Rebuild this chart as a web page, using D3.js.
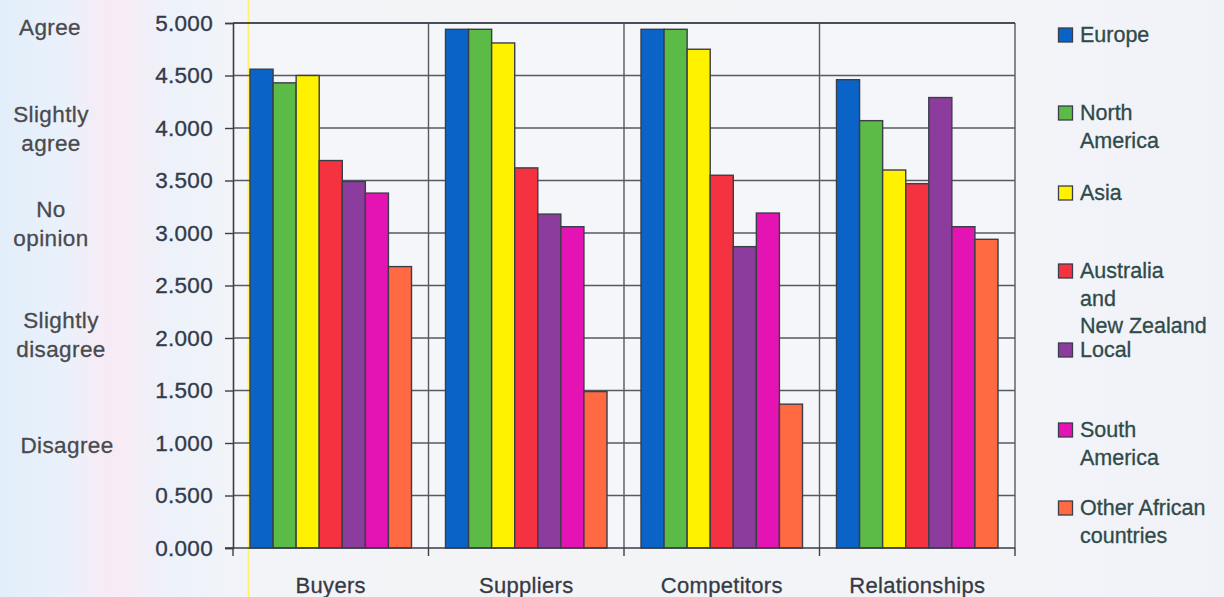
<!DOCTYPE html>
<html>
<head>
<meta charset="utf-8">
<script src="https://cdn.jsdelivr.net/npm/d3@7"></script>
<style>
  html, body { margin: 0; padding: 0; }
  body { width: 1224px; height: 597px; overflow: hidden; }
  svg { display: block; font-family: Arial, "Liberation Sans", sans-serif; }
</style>
</head>
<body>
<svg id="chart" width="1224" height="597"></svg>
<script>
// Survey categories and regional series (mean score, 0 = disagree .. 5 = agree)
const categories = ["Buyers", "Suppliers", "Competitors", "Relationships"];
const seriesNames = ["Europe", "North America", "Asia", "Australia and New Zealand", "Local", "South America", "Other African countries"];
const europe        = [4.56, 4.94, 4.94, 4.46];
const northAmerica  = [4.43, 4.94, 4.94, 4.07];
const asia          = [4.50, 4.81, 4.75, 3.60];
const australiaNZ   = [3.69, 3.62, 3.55, 3.47];
const local         = [3.49, 3.18, 2.87, 4.29];
const southAmerica  = [3.38, 3.06, 3.19, 3.06];
const otherAfrican  = [2.68, 1.49, 1.37, 2.94];
const seriesValues = [europe, northAmerica, asia, australiaNZ, local, southAmerica, otherAfrican];
const yTicks = [0, 0.5, 1, 1.5, 2, 2.5, 3, 3.5, 4, 4.5, 5];
const scaleLabels = [["Agree"], ["Slightly", "agree"], ["No", "opinion"], ["Slightly", "disagree"], ["Disagree"]];
const legendLines = [["Europe"], ["North", "America"], ["Asia"], ["Australia", "and", "New Zealand"], ["Local"], ["South", "America"], ["Other African", "countries"]];
const colors = ["#0a64c8", "#5cbb46", "#fff200", "#f5323f", "#8c3c9c", "#e414b4", "#ff6a42"];

const svg = d3.select("#chart");
const W = 1224, H = 597;

// page background with soft vertical tint bands
const defs = svg.append("defs");
const bg = defs.append("linearGradient").attr("id", "bg").attr("x1", 0).attr("x2", 1).attr("y1", 0).attr("y2", 0);
[[0, "#e2eefa"], [0.05, "#e9f1fb"], [0.075, "#f3edf7"], [0.095, "#f8ebf5"], [0.115, "#f3eef7"], [0.14, "#edf2fa"], [0.2, "#f2f4f8"], [0.4, "#f4f4f6"], [0.85, "#f3f4f8"], [1, "#f0f2f8"]]
  .forEach(([o, c]) => bg.append("stop").attr("offset", o).attr("stop-color", c));
svg.append("rect").attr("width", W).attr("height", H).attr("fill", "url(#bg)");

const plot = { left: 233, right: 1015, top: 23, bottom: 548 };

const x = d3.scaleBand().domain(categories).range([plot.left, plot.right]).padding(0);
const inner = d3.scaleBand().domain(d3.range(seriesNames.length))
  .range([17, x.bandwidth() - 17]).padding(0);
const y = d3.scaleLinear().domain([0, 5]).range([plot.bottom, plot.top]);

const ink = "#3a3e48";

// plot area
svg.append("rect")
  .attr("x", plot.left).attr("y", plot.top)
  .attr("width", plot.right - plot.left).attr("height", plot.bottom - plot.top)
  .attr("fill", "#f5f6f9");

// thin yellow rule running down the page
svg.append("line")
  .attr("x1", 248.5).attr("x2", 248.5).attr("y1", 0).attr("y2", H)
  .attr("stroke", "#fff36a").attr("stroke-width", 2);

// horizontal gridlines
svg.append("g").selectAll("line").data(yTicks.slice(1)).join("line")
  .attr("x1", plot.left).attr("x2", plot.right)
  .attr("y1", d => y(d)).attr("y2", d => y(d))
  .attr("stroke", "#555a60").attr("stroke-width", 1.4);

// vertical category dividers
svg.append("g").selectAll("line").data(categories.slice(1).map(c => x(c)).concat([plot.right])).join("line")
  .attr("x1", d => d).attr("x2", d => d)
  .attr("y1", plot.top).attr("y2", plot.bottom)
  .attr("stroke", "#555a60").attr("stroke-width", 1.4);

// bars
const groups = svg.append("g").selectAll("g").data(categories).join("g")
  .attr("transform", c => `translate(${x(c)},0)`);
groups.selectAll("rect")
  .data((c, ci) => seriesValues.map((vals, si) => ({ si, v: vals[ci] })))
  .join("rect")
  .attr("x", d => inner(d.si))
  .attr("width", inner.bandwidth())
  .attr("y", d => y(d.v))
  .attr("height", d => y(0) - y(d.v))
  .attr("fill", d => colors[d.si])
  .attr("stroke", ink).attr("stroke-width", 1.4);

// y axis
const yAxis = svg.append("g").attr("transform", `translate(${plot.left},0)`)
  .call(d3.axisLeft(y).tickValues(yTicks).tickFormat(d3.format(".3f")).tickSize(8).tickPadding(12));
yAxis.select(".domain").attr("stroke", ink).attr("stroke-width", 1.6);
yAxis.selectAll(".tick line").attr("stroke", ink).attr("stroke-width", 1.4);
yAxis.selectAll(".tick text")
  .attr("fill", "#343a4a").attr("font-size", 22.5).attr("letter-spacing", 0.3)
  .attr("stroke", "#343a4a").attr("stroke-width", 0.35)
  .attr("font-family", "Arial, 'Liberation Sans', sans-serif");

// x axis with ticks on category boundaries
const xAxis = svg.append("g").attr("transform", `translate(0,${plot.bottom})`);
xAxis.append("line").attr("x1", plot.left - 8).attr("x2", plot.right)
  .attr("stroke", ink).attr("stroke-width", 1.6);
xAxis.selectAll("line.tk").data(categories.map(c => x(c)).concat([plot.right])).join("line")
  .attr("class", "tk")
  .attr("x1", d => d).attr("x2", d => d).attr("y1", 0).attr("y2", 8)
  .attr("stroke", ink).attr("stroke-width", 1.4);
xAxis.selectAll("text").data(categories).join("text")
  .attr("x", c => x(c) + x.bandwidth() / 2)
  .attr("y", 45)
  .attr("text-anchor", "middle")
  .attr("font-size", 22)
  .attr("letter-spacing", 0.3)
  .attr("fill", "#363a44").attr("stroke", "#363a44").attr("stroke-width", 0.3)
  .text(c => c);

// top border of plot
svg.append("line").attr("x1", plot.left).attr("x2", plot.right)
  .attr("y1", plot.top).attr("y2", plot.top)
  .attr("stroke", ink).attr("stroke-width", 1.6);

// verbal scale labels on the far left (first-line baseline, line step, centre x)
const scaleLayout = [
  { y0: 35, cx: 50 },
  { y0: 122, cx: 51 },
  { y0: 217, cx: 51 },
  { y0: 328, cx: 61 },
  { y0: 453, cx: 67 }
];
const scaleG = svg.append("g");
scaleLabels.forEach((lines, k) => {
  lines.forEach((t, i) => {
    scaleG.append("text")
      .attr("x", scaleLayout[k].cx).attr("y", scaleLayout[k].y0 + i * 28.5)
      .attr("text-anchor", "middle")
      .attr("font-size", 22.5)
      .attr("letter-spacing", 0.4)
      .attr("fill", "#4a4a4e").attr("stroke", "#4a4a4e").attr("stroke-width", 0.3)
      .text(t);
  });
});

// legend (baseline of first line of each entry)
const legendBase = [42, 120, 200, 278, 357, 437, 515];
const leg = svg.append("g");
seriesNames.forEach((name, i) => {
  leg.append("rect")
    .attr("x", 1058.5).attr("y", legendBase[i] - 14)
    .attr("width", 14).attr("height", 14)
    .attr("fill", colors[i]).attr("stroke", ink).attr("stroke-width", 1.3);
  legendLines[i].forEach((t, j) => {
    leg.append("text")
      .attr("x", 1080).attr("y", legendBase[i] + j * 27.5)
      .attr("font-size", 21.5)
      .attr("fill", "#2f4a48").attr("stroke", "#2f4a48").attr("stroke-width", 0.3)
      .text(t);
  });
});
</script>
</body>
</html>
